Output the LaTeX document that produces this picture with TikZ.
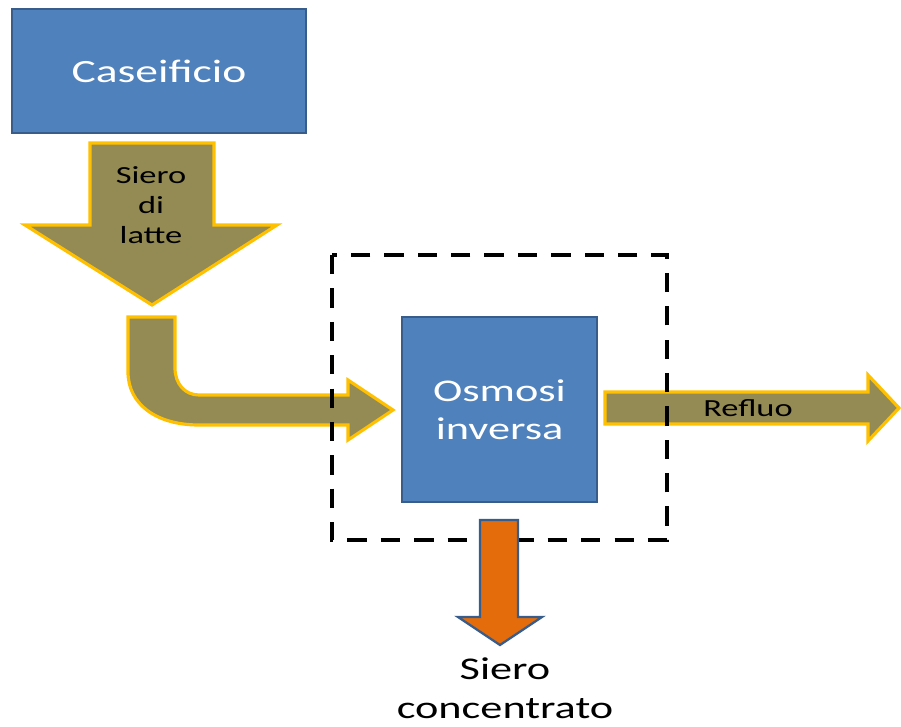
\documentclass[tikz,border=0pt]{standalone}
\usepackage{fontspec}
\setmainfont{Carlito}
\newfontfamily\widefont{Carlito}[FakeStretch=1.4]
\usepackage{xcolor}
\usepackage{tikz}

\definecolor{boxblue}{HTML}{4F81BD}
\definecolor{boxedge}{HTML}{385D8A}
\definecolor{flowolive}{HTML}{948A54}
\definecolor{flowgold}{HTML}{FFC000}
\definecolor{outorange}{HTML}{E46C0A}

\begin{document}
\begin{tikzpicture}[x=0.02cm, y=-0.02cm,
  unitbox/.style={draw=boxedge, fill=boxblue, line width=1.3pt, text=white,
    align=center, inner sep=0pt},
  flowarrow/.style={draw=flowgold, fill=flowolive, line width=1.8pt, line join=miter},
  flowlabel/.style={text=black, align=center, font=\widefont\fontsize{14}{17}\selectfont},
  boundary/.style={draw=black, line width=2.3pt, dash pattern=on 11pt off 8pt}]

\useasboundingbox (0,0) rectangle (901,726);

% Caseificio
\node[unitbox, minimum width=5.88cm, minimum height=2.48cm,
  font=\widefont\fontsize{18.5}{22}\selectfont] (caseificio) at (159,71) {Caseificio};

% siero di latte (down arrow)
\path[flowarrow] (90,143) -- (214,143) -- (214,225) -- (277,225) -- (152,305)
  -- (25,225) -- (90,225) -- cycle;
\node[flowlabel] (latte) at (151,205) {Siero\\di\\latte};

% bent arrow into the unit
\path[flowarrow] (128,317) -- (175,317) -- (175,368)
  .. controls (175,384) and (185,395) .. (199,395) -- (348,395) -- (348,380)
  -- (393,410) -- (348,440) -- (348,425) -- (199,425)
  .. controls (156,425) and (128,404) .. (128,372) -- cycle;

% Osmosi inversa
\node[unitbox, minimum width=3.9cm, minimum height=3.7cm,
  font=\widefont\fontsize{18}{21.5}\selectfont] (osmosi) at (499.5,409.5) {Osmosi\\inversa};

% refluo (right arrow)
\path[flowarrow] (605,392) -- (868,392) -- (868,375) -- (899,408) -- (868,441)
  -- (868,424) -- (605,424) -- cycle;
\node[flowlabel] (refluo) at (748,408) {Refluo};

% system boundary
\draw[boundary] (332,255) rectangle (667,540);

% siero concentrato (down arrow)
\path[draw=boxedge, fill=outorange, line width=1.3pt] (480,520) -- (518,520) -- (518,617)
  -- (542,617) -- (500,645) -- (458,617) -- (480,617) -- cycle;
\node[align=center, font=\widefont\fontsize{18}{22}\selectfont] (concentrato) at (505,688)
  {Siero\\concentrato};

\end{tikzpicture}
\end{document}
